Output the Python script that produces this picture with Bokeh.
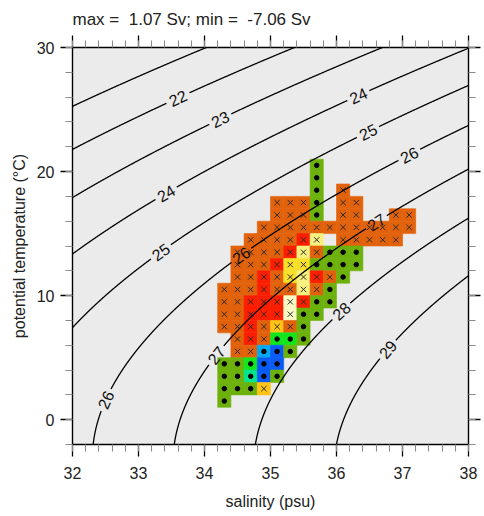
import numpy as np
from bokeh.plotting import figure
from bokeh.models import Range1d, LinearAxis, FixedTicker, ColumnDataSource
from bokeh.embed import file_html
from bokeh.resources import INLINE
from bokeh.core.properties import value

# ---------------- data ----------------
title_text = "max = \u00a01.07 Sv; min = \u00a0-7.06 Sv"

# salinity bins (left edges, psu) and temperature bins (lower edges, degC)
sal_left = [34.2, 34.4, 34.6, 34.8, 35.0, 35.2, 35.4, 35.6, 35.8, 36.0, 36.2, 36.4, 36.6, 36.8, 37.0]
sal_width = 0.2
temp_bottom = [20, 19, 18, 17, 16, 15, 14, 13, 12, 11, 10, 9, 8, 7, 6, 5, 4, 3, 2, 1]
temp_height = 1.0

# class of each cell, one string per temperature bin (columns follow sal_left)
cell_rows = [
    ".......G.......",
    ".......G.......",
    ".......G.O.....",
    "....OOOG.OO....",
    "....OOOG.OO..OO",
    "...OOOOOOOOOOOO",
    "..OOOORW.OOOOO.",
    ".OOOORWOGGG....",
    ".OOORYYGGGG....",
    ".OOROYWROG.....",
    "OOOROOWOG......",
    "OORRRPRGG......",
    "OORRRPGG.......",
    "OOROKOG........",
    ".OROLLG........",
    ".OOCBG.........",
    "GGLBB..........",
    "GGTBG..........",
    "GGGK...........",
    "G..............",
]
class_codes = ["O", "R", "Y", "W", "P", "K", "G", "L", "T", "C", "B"]
class_colors = ["#e2620c", "#fb1e00", "#f7df2a", "#f8f07e", "#fbf9c4", "#ffc416",
                "#6db20c", "#14e61e", "#00e68c", "#00aaf0", "#0a5af5"]
cross_classes = ["O", "R", "Y", "W", "P", "K"]

density_levels = [21, 22, 23, 24, 25, 26, 27, 28, 29]
label_level = [22, 23, 24, 24, 25, 25, 26, 26, 26, 27, 27, 28, 29]
label_sal = [33.56, 34.21, 33.37, 36.31, 33.25, 36.47, 32.34, 34.54, 37.16, 34.13, 36.63, 36.10, 36.81]
label_temp = [26.4, 24.6, 18.7, 26.3, 14.2, 23.25, 2.0, 13.4, 20.75, 5.4, 15.7, 8.6, 5.5]

x_ticks = [32, 33, 34, 35, 36, 37, 38]
x_minor = [round(32 + 0.2 * i, 1) for i in range(31)]
y_ticks = [0, 10, 20, 30]
y_minor = list(range(-2, 31, 2))

# ---------------- layout ----------------
W, H = 484, 512
ML, MR, MT, MB = 72, 16, 47, 67
FW, FH = W - ML - MR, H - MT - MB
xr, yr = (32, 38), (-2, 30)
pxS = FW / (xr[1] - xr[0])
pxT = FH / (yr[1] - yr[0])
FONT = "Liberation Sans"
FS = "16px"

p = figure(width=W, height=H, x_range=Range1d(*xr), y_range=Range1d(*yr),
           output_backend="svg", toolbar_location=None,
           min_border_left=ML, min_border_right=MR, min_border_top=MT, min_border_bottom=MB,
           background_fill_color="#ebebeb", border_fill_color="white")
p.outline_line_color = None
p.grid.visible = False

# ---------------- cells ----------------
cl, cr, cb, ct, cc, code = [], [], [], [], [], []
for tb, row in zip(temp_bottom, cell_rows):
    for s, ch in zip(sal_left, row):
        if ch == ".":
            continue
        cl.append(s); cr.append(s + sal_width)
        cb.append(tb); ct.append(tb + temp_height)
        cc.append(class_colors[class_codes.index(ch)])
        code.append(ch)
src = ColumnDataSource(dict(left=cl, right=cr, bottom=cb, top=ct, color=cc))
p.quad(left="left", right="right", bottom="bottom", top="top", source=src,
       fill_color="color", line_color="color", line_width=0.6)

mx = [(l + r) / 2 for l, r in zip(cl, cr)]
my = [(b + t) / 2 for b, t in zip(cb, ct)]
xs_x = [x for x, c in zip(mx, code) if c in cross_classes]
xs_y = [y for y, c in zip(my, code) if c in cross_classes]
ds_x = [x for x, c in zip(mx, code) if c not in cross_classes]
ds_y = [y for y, c in zip(my, code) if c not in cross_classes]
p.scatter(xs_x, xs_y, marker="x", size=7.5, line_color="#2a2a2a", line_width=1.0)
p.scatter(ds_x, ds_y, marker="circle", size=4.5, fill_color="black", line_color="black")

# ---------------- density contours (EOS-80, p = 0) ----------------
def sigma0(S, T):
    rw = (999.842594 + 6.793952e-2 * T - 9.095290e-3 * T**2 + 1.001685e-4 * T**3
          - 1.120083e-6 * T**4 + 6.536332e-9 * T**5)
    A = 8.24493e-1 - 4.0899e-3 * T + 7.6438e-5 * T**2 - 8.2467e-7 * T**3 + 5.3875e-9 * T**4
    B = -5.72466e-3 + 1.0227e-4 * T - 1.6546e-6 * T**2
    C = 4.8314e-4
    return rw + A * S + B * S**1.5 + C * S**2 - 1000.0

def isopycnal(level, T):
    lo = np.full_like(T, 20.0)
    hi = np.full_like(T, 45.0)
    for _ in range(60):
        mid = 0.5 * (lo + hi)
        f = sigma0(mid, T) - level
        hi = np.where(f > 0, mid, hi)
        lo = np.where(f > 0, lo, mid)
    return 0.5 * (lo + hi)

Tgrid = np.linspace(-3, 31, 1361)
lines = {k: isopycnal(k, Tgrid) for k in density_levels}

gap = 12.0
lab_x, lab_y, lab_a, lab_t = [], [], [], []
cuts = {k: [] for k in density_levels}
for k, s0, t0 in zip(label_level, label_sal, label_temp):
    S = lines[k]
    d = np.hypot((S - s0) * pxS, (Tgrid - t0) * pxT)
    i = int(np.argmin(d))
    j0, j1 = max(i - 3, 0), min(i + 3, len(S) - 1)
    ang = np.arctan2((Tgrid[j1] - Tgrid[j0]) * pxT, (S[j1] - S[j0]) * pxS)
    if ang > np.pi / 2:
        ang -= np.pi
    lab_x.append(S[i]); lab_y.append(Tgrid[i]); lab_a.append(float(ang)); lab_t.append(str(k))
    cuts[k].append((S[i], Tgrid[i]))

seg_x, seg_y = [], []
for k in density_levels:
    S = lines[k]
    keep = np.ones_like(S, dtype=bool)
    for (sc, tc) in cuts[k]:
        keep &= np.hypot((S - sc) * pxS, (Tgrid - tc) * pxT) > gap
    idx = np.where(keep)[0]
    if len(idx) == 0:
        continue
    breaks = np.where(np.diff(idx) > 1)[0]
    starts = np.concatenate([[0], breaks + 1])
    ends = np.concatenate([breaks + 1, [len(idx)]])
    for a, b in zip(starts, ends):
        sel = idx[a:b]
        seg_x.append(list(S[sel])); seg_y.append(list(Tgrid[sel]))
p.multi_line(seg_x, seg_y, line_color="black", line_width=1.3)

p.text(lab_x, lab_y, text=lab_t, angle=lab_a, text_align="center", text_baseline="middle",
       text_font=value(FONT), text_font_size=FS, text_color="#111111")

# ---------------- axes ----------------
def style_axis(ax, major, minor, show_labels):
    ax.ticker = FixedTicker(ticks=major, minor_ticks=minor)
    ax.axis_line_color = "black"
    ax.axis_line_width = 1.4
    ax.major_tick_out = 12
    ax.major_tick_in = 0
    ax.minor_tick_out = 7
    ax.minor_tick_in = 0
    ax.major_tick_line_color = "black"
    ax.major_tick_line_width = 1.3
    ax.minor_tick_line_color = "#8a8a8a"
    ax.minor_tick_line_width = 1.1
    ax.major_label_text_font = FONT
    ax.major_label_text_color = "#222222"
    if show_labels:
        ax.major_label_text_font_size = FS
    else:
        ax.major_label_text_font_size = "1px"
        ax.major_label_overrides = {t: "" for t in major}
        ax.major_label_standoff = 0
    ax.axis_label_text_font = FONT
    ax.axis_label_text_font_size = FS
    ax.axis_label_text_font_style = "normal"
    ax.axis_label_text_color = "#222222"

style_axis(p.xaxis[0], x_ticks, x_minor, True)
p.xaxis[0].axis_label = "salinity (psu)"
p.xaxis[0].major_label_standoff = 10
p.xaxis[0].axis_label_standoff = 11
style_axis(p.yaxis[0], y_ticks, y_minor, True)
p.yaxis[0].axis_label = "potential temperature (\u00b0C)"
p.yaxis[0].major_label_standoff = 6
p.yaxis[0].axis_label_standoff = 6

top = LinearAxis()
style_axis(top, x_ticks, x_minor, False)
p.add_layout(top, "above")
right = LinearAxis()
style_axis(right, y_ticks, y_minor, False)
right.major_label_standoff = 0
p.add_layout(right, "right")

p.title.text = title_text
p.title.align = "left"
p.title.text_font = FONT
p.title.text_font_size = "17px"
p.title.text_font_style = "normal"
p.title.text_color = "#222222"
p.title.standoff = 14

open("out.html", "w").write(file_html(p, INLINE))
